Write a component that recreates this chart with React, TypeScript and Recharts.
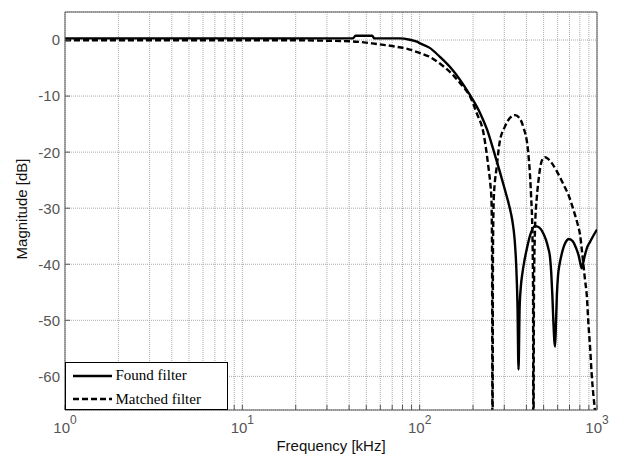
import React from 'react';
import { LineChart, Line, XAxis, YAxis, CartesianGrid, ReferenceLine, Legend } from 'recharts';

// Found filter magnitude response (frequency in kHz, magnitude in dB)
const foundFreq = [1, 3, 10, 30, 42, 43.5, 54, 55.5, 77, 88, 96.5, 100, 114, 130, 150, 169, 192, 219, 240, 260, 282, 303, 320, 333, 343, 350, 356, 361, 366, 372, 380, 390, 401, 420, 446, 470, 498, 515, 530, 544, 552, 560, 568, 580, 587, 594, 603, 615, 631, 660, 696, 730, 760, 790, 805, 820, 835, 850, 880, 914, 950, 1000];
const foundMag = [0.3, 0.3, 0.3, 0.3, 0.3, 0.75, 0.75, 0.3, 0.3, 0.05, -0.3, -0.55, -1.4, -3.0, -5.0, -7.1, -9.8, -13.0, -16.0, -19.5, -23.3, -26.8, -29.6, -32.2, -35.5, -40.0, -47.0, -58.8, -48.0, -44.0, -41.5, -39.3, -37.4, -34.8, -33.2, -33.4, -34.5, -35.6, -37.0, -38.9, -41.5, -45.5, -50.5, -54.7, -50.5, -45.5, -42.0, -40.0, -38.3, -36.3, -35.5, -35.9, -37.0, -38.6, -39.8, -40.7, -39.8, -38.7, -37.0, -36.0, -35.0, -33.8];

// Matched filter magnitude response
const matchedFreq = [1, 20, 27, 42, 54, 64, 74, 88, 100, 114, 130, 140, 155, 169, 180, 192, 210, 229, 244, 250, 254, 256, 257.5, 259, 262, 272, 282, 303, 325, 345, 365, 384, 408, 425, 432, 436, 438, 441, 448, 458, 468, 478, 490, 509, 530, 560, 593, 630, 660, 690, 720, 750, 780, 803, 820, 838, 856, 876, 894, 915, 935, 955, 975, 1000];
const matchedMag = [-0.05, -0.05, -0.1, -0.25, -0.6, -0.9, -1.2, -1.7, -2.3, -3.0, -4.2, -5.0, -6.3, -7.7, -8.7, -10.0, -13.1, -16.6, -22.6, -25.5, -28.5, -38.0, -80.0, -38.0, -28.0, -22.6, -18.4, -15.4, -13.8, -13.4, -13.9, -15.5, -19.6, -27.9, -34.0, -45.0, -80.0, -45.0, -33.0, -28.0, -25.0, -22.8, -21.4, -20.9, -21.2, -22.1, -23.4, -25.0, -26.3, -27.6, -29.3, -31.1, -33.0, -34.8, -37.2, -40.0, -42.8, -45.6, -50.5, -55.0, -60.0, -63.5, -66.5, -75.0];

const seriesNames = ['Found filter', 'Matched filter'];
const yTicks = [-60, -50, -40, -30, -20, -10, 0];
const xTicks = [1, 2, 3, 4, 5, 6, 7, 8, 9, 10, 20, 30, 40, 50, 60, 70, 80, 90, 100, 200, 300, 400, 500, 600, 700, 800, 900, 1000];
const decadeExp: Record<number, string> = { 1: '0', 10: '1', 100: '2', 1000: '3' };
const xDomain = [1, 1000];
const yDomain = [-66, 5];

const foundData = foundFreq.map((f, i) => ({ f, mag: foundMag[i] }));
const matchedData = matchedFreq.map((f, i) => ({ f, mag: matchedMag[i] }));

const SANS = '"Liberation Sans", Arial, Helvetica, sans-serif';
const SERIF = '"Liberation Serif", "Times New Roman", serif';
const AXIS = '#555';
const DASH = '6 3';

const XTick = (props: any) => {
  const { x, y, payload } = props;
  const exp = decadeExp[payload.value];
  return (
    <g>
      <line x1={x} x2={x} y1={y} y2={y - 5} stroke={AXIS} strokeWidth={1} />
      {exp !== undefined && (
        <text x={x} y={y + 23} textAnchor="middle" fill={AXIS} fontSize={15} fontFamily={SANS}>
          10<tspan dy={-9} fontSize={12}>{exp}</tspan>
        </text>
      )}
    </g>
  );
};

const YTick = (props: any) => {
  const { x, y, payload } = props;
  return (
    <g>
      <line x1={x + 5} x2={x + 10} y1={y} y2={y} stroke={AXIS} strokeWidth={1} />
      <text x={x} y={y} dy="0.36em" textAnchor="end" fill={AXIS} fontSize={15} fontFamily={SANS}>
        {payload.value}
      </text>
    </g>
  );
};

const LegendBox = () => (
  <div
    style={{
      boxSizing: 'border-box',
      width: 163,
      height: 48,
      border: '1.5px solid #000',
      background: '#fff',
      fontFamily: SERIF,
      fontSize: 15,
      color: '#000',
      paddingTop: 1,
      paddingLeft: 6.5,
    }}
  >
    {seriesNames.map((name, i) => (
      <div key={name} style={{ display: 'flex', alignItems: 'center', height: 23.5, lineHeight: '23.5px' }}>
        <svg width={39} height={4} style={{ display: 'block' }}>
          <line x1={0} x2={39} y1={2} y2={2} stroke="#000" strokeWidth={2.4} strokeDasharray={i === 1 ? DASH : undefined} />
        </svg>
        <span style={{ marginLeft: 4, whiteSpace: 'nowrap' }}>{name}</span>
      </div>
    ))}
  </div>
);

export default function App() {
  return (
    <div style={{ position: 'absolute', left: 0, top: 0, width: 620, height: 458, background: '#fff' }}>
      <LineChart width={620} height={458} margin={{ top: 12, right: 23, bottom: 0, left: 0 }}>
        <CartesianGrid stroke="#aaa" strokeDasharray="1 1" strokeWidth={1} />
        <XAxis
          dataKey="f"
          type="number"
          scale="log"
          domain={xDomain}
          ticks={xTicks}
          interval={0}
          allowDataOverflow
          height={48}
          tickSize={0}
          tickMargin={0}
          tickLine={false}
          tick={<XTick />}
          axisLine={{ stroke: AXIS, strokeWidth: 1 }}
          label={(p: any) => {
            const vb = p.viewBox;
            return (
              <text x={vb.x + vb.width / 2} y={vb.y + 41} textAnchor="middle" fill="#111" fontSize={15} fontFamily={SANS}>
                Frequency [kHz]
              </text>
            );
          }}
        />
        <YAxis
          type="number"
          domain={yDomain}
          ticks={yTicks}
          interval={0}
          allowDataOverflow
          width={65}
          tickSize={0}
          tickMargin={5}
          tickLine={false}
          tick={<YTick />}
          axisLine={{ stroke: AXIS, strokeWidth: 1 }}
          label={(p: any) => {
            const vb = p.viewBox;
            const cx = vb.x + 27;
            const cy = vb.y + vb.height / 2 - 2;
            return (
              <text x={cx} y={cy} transform={`rotate(-90 ${cx} ${cy})`} textAnchor="middle" fill="#111" fontSize={15} fontFamily={SANS}>
                Magnitude [dB]
              </text>
            );
          }}
        />
        <ReferenceLine y={yDomain[1]} stroke={AXIS} strokeWidth={1} />
        <ReferenceLine x={xDomain[1]} stroke={AXIS} strokeWidth={1} />
        <Line
          data={foundData}
          dataKey="mag"
          name={seriesNames[0]}
          type="monotone"
          stroke="#000"
          strokeWidth={2.4}
          dot={false}
          activeDot={false}
          isAnimationActive={false}
        />
        <Line
          data={matchedData}
          dataKey="mag"
          name={seriesNames[1]}
          type="monotone"
          stroke="#000"
          strokeWidth={2.4}
          strokeDasharray={DASH}
          dot={false}
          activeDot={false}
          isAnimationActive={false}
        />
        <Legend
          layout="horizontal"
          verticalAlign="middle"
          align="center"
          wrapperStyle={{ left: 65, top: 362, width: 163, height: 48 }}
          content={() => <LegendBox />}
        />
      </LineChart>
    </div>
  );
}
